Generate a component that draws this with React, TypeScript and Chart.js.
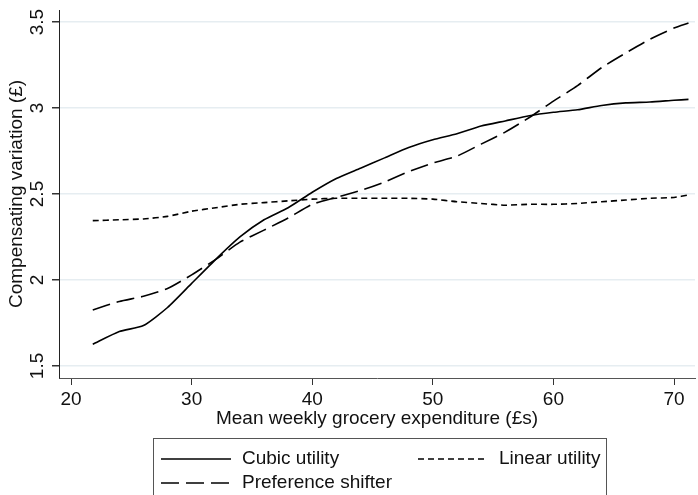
import React, { useEffect, useRef } from "react";
import { Chart, registerables } from "chart.js";

Chart.register(...registerables);

const expenditure = [21.8, 24, 26, 28, 30, 32, 34, 36, 38, 40, 42, 44, 46, 48, 50, 52, 54, 56, 58, 60, 62, 64, 66, 68, 70, 71.2];
const cubicUtility = [1.626, 1.7, 1.735, 1.84, 1.98, 2.12, 2.25, 2.35, 2.42, 2.51, 2.59, 2.65, 2.71, 2.77, 2.815, 2.85, 2.895, 2.925, 2.955, 2.975, 2.99, 3.015, 3.03, 3.035, 3.045, 3.05];
const linearUtility = [2.345, 2.35, 2.355, 2.37, 2.4, 2.42, 2.44, 2.45, 2.46, 2.47, 2.475, 2.475, 2.475, 2.475, 2.47, 2.455, 2.445, 2.435, 2.44, 2.44, 2.445, 2.455, 2.465, 2.475, 2.48, 2.494];
const preferenceShifter = [1.826, 1.875, 1.905, 1.95, 2.03, 2.12, 2.22, 2.29, 2.36, 2.44, 2.48, 2.52, 2.57, 2.63, 2.68, 2.72, 2.79, 2.86, 2.945, 3.04, 3.13, 3.235, 3.32, 3.4, 3.465, 3.494];

const xTicks = [20, 30, 40, 50, 60, 70];
const yTicks = [1.5, 2, 2.5, 3, 3.5];
const yTickLabels = ["1.5", "2", "2.5", "3", "3.5"];
const seriesLabels = ["Cubic utility", "Linear utility", "Preference shifter"];
const xTitle = "Mean weekly grocery expenditure (£s)";
const yTitle = "Compensating variation (£)";

const FONT = "'Liberation Sans', Arial, sans-serif";
const FS = 19;
const INK = "#111";

const dashes: number[][] = [[], [6, 4], [18, 7]];

export default function App() {
  const ref = useRef<HTMLCanvasElement | null>(null);

  useEffect(() => {
    document.body.style.margin = "0";
    const canvas = ref.current;
    if (!canvas) return;

    const extras = {
      id: "extras",
      afterDraw(chart: any) {
        const ctx = chart.ctx as CanvasRenderingContext2D;
        const y = chart.scales.y;
        ctx.save();
        ctx.font = `${FS}px ${FONT}`;
        ctx.fillStyle = INK;
        ctx.textAlign = "center";
        ctx.textBaseline = "alphabetic";
        yTicks.forEach((v, i) => {
          const py = y.getPixelForValue(v);
          ctx.save();
          ctx.translate(43, py);
          ctx.rotate(-Math.PI / 2);
          ctx.fillText(yTickLabels[i], 0, 0);
          ctx.restore();
        });
        ctx.restore();

        // legend box
        ctx.save();
        ctx.strokeStyle = "#555";
        ctx.lineWidth = 1;
        ctx.strokeRect(153.5, 438.5, 453, 80);
        ctx.font = `${FS}px ${FONT}`;
        ctx.fillStyle = INK;
        ctx.textAlign = "left";
        ctx.textBaseline = "middle";
        const items = [
          { x: 161, y: 459, tx: 242, i: 0 },
          { x: 418, y: 459, tx: 499, i: 1 },
          { x: 161, y: 483, tx: 242, i: 2 },
        ];
        items.forEach((it) => {
          ctx.save();
          ctx.strokeStyle = "#000";
          ctx.lineWidth = 1.6;
          ctx.setLineDash(dashes[it.i]);
          ctx.beginPath();
          ctx.moveTo(it.x, it.y);
          ctx.lineTo(it.x + 70, it.y);
          ctx.stroke();
          ctx.restore();
          ctx.fillText(seriesLabels[it.i], it.tx, it.y);
        });
        ctx.restore();
      },
    };

    const series = [cubicUtility, linearUtility, preferenceShifter];
    const chart = new Chart(canvas, {
      type: "line",
      data: {
        datasets: series.map((s, i) => ({
          label: seriesLabels[i],
          data: expenditure.map((x, j) => ({ x, y: s[j] })),
          borderColor: "#000",
          borderWidth: 1.6,
          borderDash: dashes[i],
          pointRadius: 0,
          tension: 0.2,
          fill: false,
        })),
      },
      options: {
        animation: false,
        responsive: false,
        devicePixelRatio: 1,
        layout: { padding: { left: 0, right: 3, top: 10, bottom: 65 } },
        plugins: { legend: { display: false }, tooltip: { enabled: false } },
        font: { family: FONT, size: FS },
        scales: {
          x: {
            type: "linear",
            min: 19,
            max: 71.74,
            afterBuildTicks: (scale: any) => {
              scale.ticks = xTicks.map((v) => ({ value: v }));
            },
            afterFit: (scale: any) => {
              scale.height = 52;
            },
            ticks: {
              color: INK,
              font: { family: FONT, size: FS },
              padding: 3,
              maxRotation: 0,
              autoSkip: false,
            },
            grid: {
              drawOnChartArea: false,
              drawTicks: true,
              tickLength: 7,
              tickColor: "#333",
              color: "#333",
            },
            border: { display: true, color: "#555", width: 1 },
            title: {
              display: true,
              text: xTitle,
              color: INK,
              font: { family: FONT, size: FS },
              padding: { top: 0, bottom: 0 },
            },
          },
          y: {
            type: "linear",
            min: 1.43,
            max: 3.57,
            afterBuildTicks: (scale: any) => {
              scale.ticks = yTicks.map((v) => ({ value: v }));
            },
            afterFit: (scale: any) => {
              scale.width = 59;
            },
            ticks: { display: false },
            grid: {
              drawOnChartArea: true,
              drawTicks: true,
              tickLength: 7,
              color: "#e6edf1",
              lineWidth: 1.5,
              tickColor: "#333",
            },
            border: { display: true, color: "#222", width: 1 },
            title: {
              display: true,
              text: yTitle,
              color: INK,
              font: { family: FONT, size: FS },
              padding: { top: 5, bottom: 0 },
            },
          },
        },
      },
      plugins: [extras],
    } as any);

    return () => chart.destroy();
  }, []);

  return (
    <div style={{ width: 698, height: 495 }}>
      <canvas ref={ref} width={698} height={495} style={{ display: "block" }} />
    </div>
  );
}
